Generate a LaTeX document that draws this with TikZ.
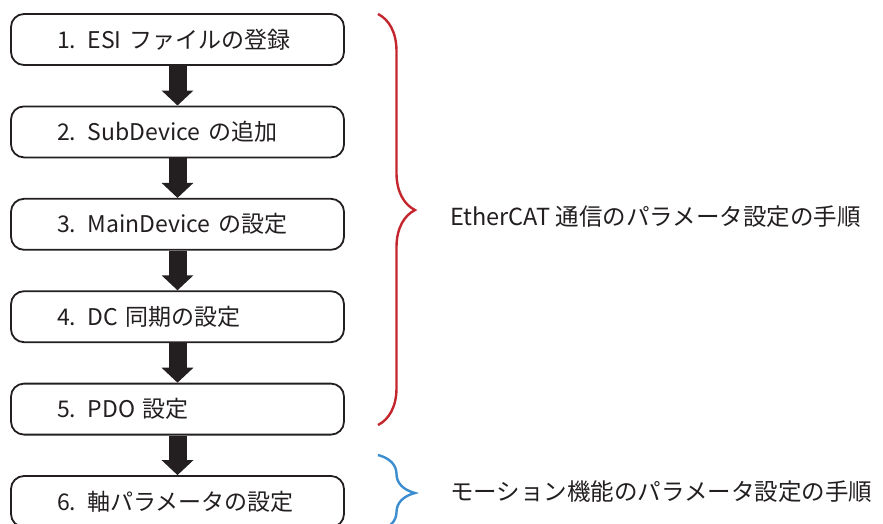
\documentclass[tikz,border=0pt]{standalone}
\usepackage{fontspec}
\setmainfont{Noto Sans CJK JP}
\usetikzlibrary{arrows.meta, positioning, decorations.pathreplacing}
\definecolor{ink}{HTML}{231F20}
\definecolor{bracered}{HTML}{C4262E}
\definecolor{braceblue}{HTML}{3C8DD0}

\begin{document}
\begin{tikzpicture} [
	x=1pt, y=-1pt, % one unit = one pixel of the layout, y going down
	node distance=39.6pt, % gap between two step boxes
	stepbox/.style={draw=ink, line width=1.8pt, rounded corners=13pt,
		minimum height=51pt, text width=333pt, inner xsep=0pt, align=left,
		text=ink, font=\fontsize{23}{24}\selectfont,
		execute at begin node=\hspace*{46pt}}, % every step of the procedure
	steparrow/.style={draw=ink, line width=18pt,
		-{Triangle[width=31pt, length=15pt]}}, % fat arrow between steps
	groupbrace/.style={line width=2.4pt,
		decorate, decoration={brace, amplitude=37pt}}, % brace round a group of steps
	grouplabel/.style={inner sep=0pt, anchor=west, text=ink,
		font=\fontsize{23.5}{24}\selectfont}, % text next to a brace
	]
	\clip (0,0) rectangle (883,523);

	\node[stepbox] (s1) at (177.5,39.5) {1. ESI ファイルの登録};
	\node[stepbox, below=of s1] (s2) {2. SubDevice の追加};
	\node[stepbox, below=of s2] (s3) {3. MainDevice の設定};
	\node[stepbox, below=of s3] (s4) {4. DC 同期の設定};
	\node[stepbox, below=of s4] (s5) {5. PDO 設定};
	\node[stepbox, below=of s5] (s6) {6. 軸パラメータの設定};

	\draw[steparrow] (s1.south) -- (s2.north);
	\draw[steparrow] (s2.south) -- (s3.north);
	\draw[steparrow] (s3.south) -- (s4.north);
	\draw[steparrow] (s4.south) -- (s5.north);
	\draw[steparrow] (s5.south) -- (s6.north);

	% braces for the two groups
	\coordinate (ctop) at (378,14);
	\coordinate (cbot) at (378,425);
	\coordinate (ctip) at (415,217);
	\coordinate (mtop) at (378,455);
	\coordinate (mbot) at (378,531);
	\coordinate (mtip) at (415,492);

	\draw[groupbrace, bracered, decoration={aspect=0.477}] (ctop) -- (cbot);
	\draw[groupbrace, braceblue] (mtop) -- (mbot);

	\node[grouplabel, right=35pt of ctip] (clabel) {EtherCAT 通信のパラメータ設定の手順};
	\node[grouplabel, right=35pt of mtip] (mlabel) {モーション機能のパラメータ設定の手順};
\end{tikzpicture}
\end{document}
